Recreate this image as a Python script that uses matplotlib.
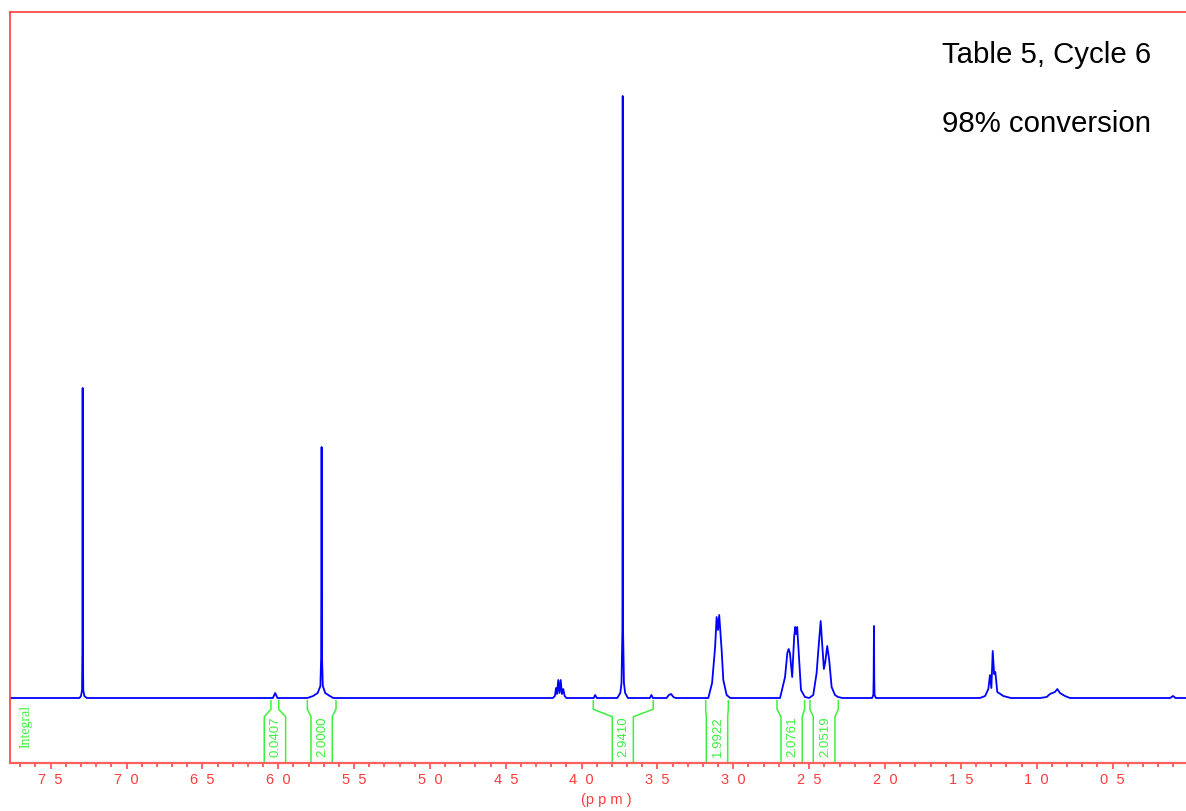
import matplotlib
matplotlib.use("Agg")
import matplotlib.pyplot as plt
from matplotlib.ticker import FixedLocator, FixedFormatter, MultipleLocator

# ---------------- data ----------------
ppm = [7.768, 7.310, 7.300, 7.293, 7.290, 7.289, 7.288, 7.285, 7.278, 7.262,
       6.035, 6.020, 6.005,
       5.808, 5.770, 5.740, 5.722, 5.717, 5.714, 5.711, 5.706, 5.690, 5.660, 5.637,
       4.190, 4.176, 4.169, 4.162, 4.154, 4.146, 4.138, 4.130, 4.121, 4.112, 4.100,
       3.920, 3.911, 3.900,
       3.765, 3.745, 3.737, 3.731, 3.729, 3.727, 3.721, 3.713, 3.695,
       3.550, 3.540, 3.530,
       3.440, 3.425, 3.410, 3.395, 3.380,
       3.165, 3.140, 3.120, 3.110, 3.101, 3.093, 3.077, 3.066, 3.044, 3.020,
       2.692, 2.659, 2.644, 2.635, 2.627, 2.612, 2.599, 2.592, 2.586, 2.579, 2.566, 2.554, 2.528, 2.500,
       2.473, 2.451, 2.438, 2.424, 2.416, 2.403, 2.394, 2.381, 2.368, 2.352, 2.330, 2.310, 2.280,
       2.085, 2.077, 2.075, 2.073, 2.071, 2.069, 2.060,
       1.374, 1.340, 1.319, 1.308, 1.299, 1.290, 1.281, 1.273, 1.260, 1.220, 1.170,
       0.978, 0.934, 0.913, 0.880, 0.864, 0.847, 0.814, 0.781,
       0.120, 0.102, 0.085, 0.016]
intensity = [0, 0, 2, 8, 60, 310, 60, 8, 2, 0,
             0, 5, 0,
             0, 2, 5, 12, 40, 251, 40, 12, 5, 2, 0,
             0, 2, 10, 4, 18, 5, 18, 4, 9, 2, 0,
             0, 3, 0,
             0, 5, 15, 70, 602, 70, 15, 5, 0,
             0, 3, 0,
             0, 3, 4, 1, 0,
             0, 15, 51, 81, 68, 83, 48, 18, 3, 0,
             0, 21, 45, 49, 45, 21, 61, 71, 64, 71, 38, 8, 1, 0,
             3, 25, 51, 77, 58, 29, 36, 52, 38, 11, 3, 1, 0,
             0, 3, 20, 72, 20, 3, 0,
             0, 2, 9, 23, 10, 47, 24, 26, 6, 2, 0,
             0, 1, 4, 6, 9, 5, 2, 0,
             0, 2, 0, 0]

integral_start = [6.048, 5.808, 3.923, 3.182, 2.712, 2.495]
integral_end = [5.997, 5.619, 3.528, 3.033, 2.530, 2.308]
bracket_inner_start = [6.092, 5.784, 3.798, 3.178, 2.686, 2.473]
bracket_inner_end = [5.951, 5.644, 3.659, 3.037, 2.546, 2.330]
integral_values = ["0.0407", "2.0000", "2.9410", "1.9922", "2.0761", "2.0519"]

tick_positions = [7.5, 7.0, 6.5, 6.0, 5.5, 5.0, 4.5, 4.0, 3.5, 3.0, 2.5, 2.0, 1.5, 1.0, 0.5]
tick_labels = ["7  5", "7  0", "6  5", "6  0", "5  5", "5  0", "4  5", "4  0",
               "3  5", "3  0", "2  5", "2  0", "1  5", "1  0", "0  5"]

title_lines = ["Table 5, Cycle 6", "98% conversion"]

# ---------------- figure ----------------
W, H = 1186, 811
fig = plt.figure(figsize=(W / 100, H / 100), dpi=100)
ax = fig.add_axes([10 / W, (H - 763) / H, (W - 10) / W, (763 - 12) / H])

RED = "#ff3b3b"
GREEN = "#3df03d"
BLUE = "#0000ff"

ax.plot(ppm, intensity, color=BLUE, lw=1.3, solid_joinstyle="round")

ax.set_xlim(7.768, 0.016)
ax.set_ylim(-65, 686)

# integral brackets
y_top, y_knee, y_inner = -2.7, -11.3, -18.7
y_bot = -65
for s, e, si, ei, lab in zip(integral_start, integral_end,
                             bracket_inner_start, bracket_inner_end, integral_values):
    ax.plot([s, s, si, si], [y_top, y_knee, y_inner, y_bot], color=GREEN, lw=1.1,
            clip_on=False)
    ax.plot([e, e, ei, ei], [y_top, y_knee, y_inner, y_bot], color=GREEN, lw=1.1,
            clip_on=False)
    ax.text((si + ei) / 2 - 0.005, -59, lab, rotation=90, ha="center", va="bottom",
            color=GREEN, fontsize=9.5, family="Liberation Sans")

ax.text(7.66, -28, "Integral", rotation=90, ha="center", va="center",
        color=GREEN, fontsize=10, family="Liberation Serif")

# axes styling
for side in ["top", "left"]:
    ax.spines[side].set_color(RED)
    ax.spines[side].set_linewidth(1.2)
ax.spines["bottom"].set_color("#ff6060")
ax.spines["bottom"].set_linewidth(1.6)
ax.spines["right"].set_visible(False)

ax.xaxis.set_major_locator(FixedLocator(tick_positions))
ax.xaxis.set_major_formatter(FixedFormatter(tick_labels))
ax.xaxis.set_minor_locator(MultipleLocator(0.1))
ax.tick_params(axis="x", which="major", direction="out", length=4.5, width=1.1,
               color=RED, labelcolor=RED, labelsize=10.5, pad=3)
ax.tick_params(axis="x", which="minor", direction="out", length=3.2, width=1.1,
               color=RED)
for t in ax.get_xticklabels():
    t.set_family("Liberation Sans")
ax.set_yticks([])

fig.text(606 / W, 1 - 800 / H, "(p p m )", ha="center", va="center",
         color=RED, fontsize=10.5, family="Liberation Sans")

fig.text(1151 / W, 1 - 55 / H, title_lines[0], ha="right", va="center",
         fontsize=21.2, family="Liberation Sans", color="black")
fig.text(1151 / W, 1 - 124 / H, title_lines[1], ha="right", va="center",
         fontsize=21.2, family="Liberation Sans", color="black")

fig.savefig("out.png", dpi=100)
